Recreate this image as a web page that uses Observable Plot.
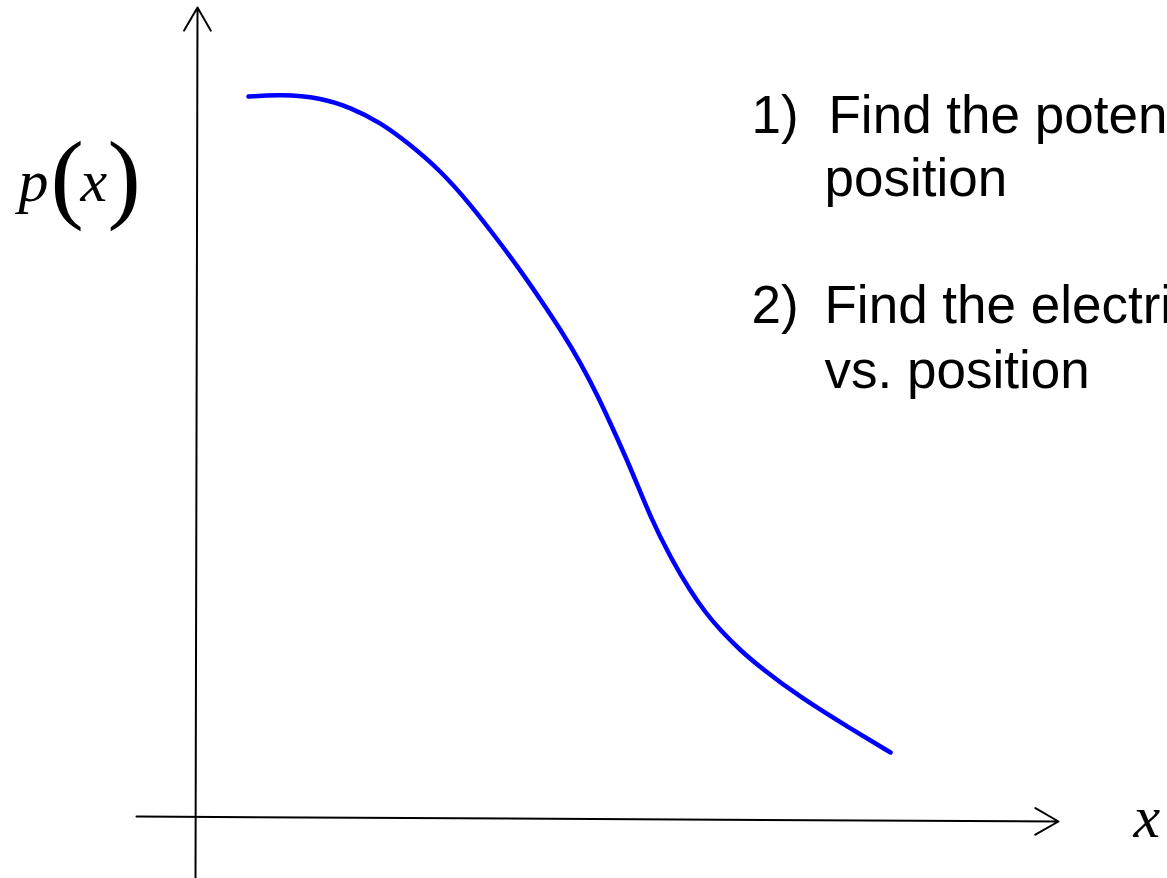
<!DOCTYPE html>
<html><head><meta charset="utf-8">
<script src="https://cdn.jsdelivr.net/npm/d3@7"></script>
<script src="https://cdn.jsdelivr.net/npm/@observablehq/plot@0.6"></script>
<style>html,body{margin:0;padding:0;background:#fff;overflow:hidden}#chart svg{overflow:hidden;display:block}</style>
</head><body><div id="chart"></div>
<script>
// Curve p(x), in axis units (origin at the axes crossing)
const curveX = [0.51,0.83,1.23,1.53,1.83,2.10,2.43,2.73,3.03,3.23,3.43,3.63,3.83,4.01,4.13,4.33,4.53,4.73,4.93,5.08,5.23,5.43,5.63,6.03,6.53,6.93];
const curveP = [7.20,7.22,7.19,7.09,6.94,6.74,6.46,6.12,5.73,5.46,5.17,4.87,4.54,4.19,3.93,3.49,2.99,2.59,2.25,2.04,1.86,1.66,1.49,1.19,0.88,0.64];

// Axis arrows
const axisX1 = [-0.02, -0.61];
const axisY1 = [-0.62, 0];
const axisX2 = [0, 8.61];
const axisY2 = [8.09, -0.05];

// Text blocks on the right
const noteLabels = ["1)", "Find the potential vs.", "position", "2)", "Find the electric field", "vs. position"];
const noteX = [5.54, 6.31, 6.27, 5.54, 6.27, 6.27];
const noteY = [6.84, 6.84, 6.21, 4.94, 4.94, 4.29];

// Math labels
const mathItalic = ["p", "x", "x"];
const mathItalicX = [-1.79, -1.17, 9.36];
const mathItalicY = [6.16, 6.16, -0.20];
const parens = ["(", ")"];
const parenX = [-1.47, -0.90];
const parenY = [6.07, 6.07];

const curve = curveX.map((x, i) => ({x, p: curveP[i]}));
const axes = axisX1.map((v, i) => ({x1: v, y1: axisY1[i], x2: axisX2[i], y2: axisY2[i]}));
const notes = noteLabels.map((t, i) => ({t, x: noteX[i], y: noteY[i]}));
const italics = mathItalic.map((t, i) => ({t, x: mathItalicX[i], y: mathItalicY[i]}));
const parenData = parens.map((t, i) => ({t, x: parenX[i], y: parenY[i]}));

const chart = Plot.plot({
  width: 1167,
  height: 878,
  margin: 0,
  x: {domain: [-1.97, 9.70], axis: null},
  y: {domain: [-0.62, 8.16], axis: null},
  style: {background: "white"},
  marks: [
    Plot.arrow(axes, {x1: "x1", y1: "y1", x2: "x2", y2: "y2", stroke: "black", strokeWidth: 2, headLength: 20, headAngle: 60}),
    Plot.line(curve, {x: "x", y: "p", curve: "basis", stroke: "#0000ff", strokeWidth: 4.5}),
    Plot.text(notes, {x: "x", y: "y", text: "t", textAnchor: "start", lineAnchor: "bottom", fontSize: 53, fontFamily: "Liberation Sans, Arial, sans-serif", fill: "black"}),
    Plot.text(italics, {x: "x", y: "y", text: "t", textAnchor: "start", lineAnchor: "bottom", fontSize: 60, fontStyle: "italic", fontFamily: "Liberation Serif, Times New Roman, serif", fill: "black"}),
    Plot.text(parenData, {x: "x", y: "y", text: "t", textAnchor: "start", lineAnchor: "bottom", fontSize: 100, fontFamily: "Liberation Serif, Times New Roman, serif", fill: "black"})
  ]
});
document.getElementById("chart").appendChild(chart);
</script>
</body></html>
